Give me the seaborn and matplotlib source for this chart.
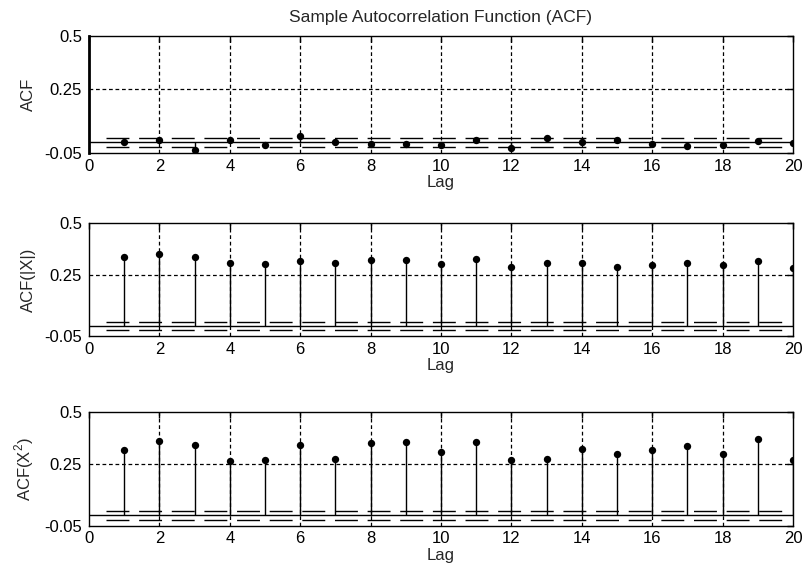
import numpy as np
import pandas as pd
import matplotlib
matplotlib.use("Agg")
import matplotlib.pyplot as plt
import seaborn as sns

lags = list(range(1, 21))
acf_x = [0.001, 0.011, -0.035, 0.009, -0.013, 0.028, 0.001, -0.007, -0.008, -0.013,
         0.009, -0.025, 0.022, 0.001, 0.009, -0.008, -0.017, -0.013, 0.008, -0.005]
acf_abs = [0.336, 0.349, 0.336, 0.308, 0.301, 0.315, 0.308, 0.321, 0.321, 0.303,
           0.327, 0.288, 0.308, 0.308, 0.288, 0.295, 0.308, 0.295, 0.315, 0.282]
acf_sq = [0.316, 0.362, 0.343, 0.262, 0.269, 0.343, 0.275, 0.350, 0.356, 0.309,
          0.356, 0.269, 0.275, 0.322, 0.296, 0.316, 0.337, 0.296, 0.369, 0.269]
bound = 0.02
ylabels = ["ACF", "ACF(|X|)", "ACF(X$^2$)"]
yticks = [-0.05, 0.25, 0.5]
ytick_labels = ["-0.05", "0.25", "0.5"]
xticks = list(range(0, 21, 2))
title = "Sample Autocorrelation Function (ACF)"

sns.set_style("white")
plt.rcParams["font.family"] = ["Liberation Sans", "DejaVu Sans"]
plt.rcParams["mathtext.fontset"] = "custom"
plt.rcParams["mathtext.rm"] = "Liberation Sans"

FS = 12

fig = plt.figure(figsize=(8.03, 5.76), dpi=100)
positions = [
    [0.1108, 0.7344, 0.8767, 0.2031],
    [0.1108, 0.4167, 0.8767, 0.1956],
    [0.1108, 0.0873, 0.8767, 0.1969],
]
series = [acf_x, acf_abs, acf_sq]

for i, (pos, vals, yl) in enumerate(zip(positions, series, ylabels)):
    ax = fig.add_axes(pos)
    df = pd.DataFrame({"Lag": lags, "ACF": vals})
    ax.vlines(df["Lag"], 0, df["ACF"], color="black", lw=1, zorder=3)
    sns.scatterplot(data=df, x="Lag", y="ACF", ax=ax, color="black", s=28,
                    linewidth=0, zorder=4, legend=False)
    ax.axhline(0, color="black", lw=1, zorder=2)
    for b in (bound, -bound):
        ax.hlines(b, 0.47, 19.93, color="black", lw=1, linestyles=(0, (16.5, 7.0)), zorder=2)
    ax.set_xlim(0, 20)
    ax.set_ylim(-0.05, 0.5)
    ax.set_xticks(xticks)
    ax.set_xticklabels([str(t) for t in xticks], fontsize=FS)
    ax.set_yticks(yticks)
    ax.set_yticklabels(ytick_labels, fontsize=FS)
    for xg in range(2, 20, 2):
        ax.axvline(xg, color="black", lw=0.9, linestyle=(0, (3, 2.2)), zorder=1)
    ax.axhline(0.25, color="black", lw=0.9, linestyle=(0, (3, 2.2)), zorder=1)
    ax.tick_params(direction="in", length=4, width=1, top=True, right=True,
                   colors="black")
    ax.tick_params(axis="x", pad=4)
    ax.tick_params(axis="y", pad=5)
    for s in ax.spines.values():
        s.set_color("black")
        s.set_linewidth(1)
    if i == 0:
        ax.spines["left"].set_linewidth(2)
        ax.set_title(title, fontsize=12.5, pad=10)
    ax.set_xlabel("Lag", fontsize=FS, labelpad=1)
    ax.set_ylabel(yl, fontsize=FS, labelpad=6)

fig.savefig("out.png", dpi=100)
